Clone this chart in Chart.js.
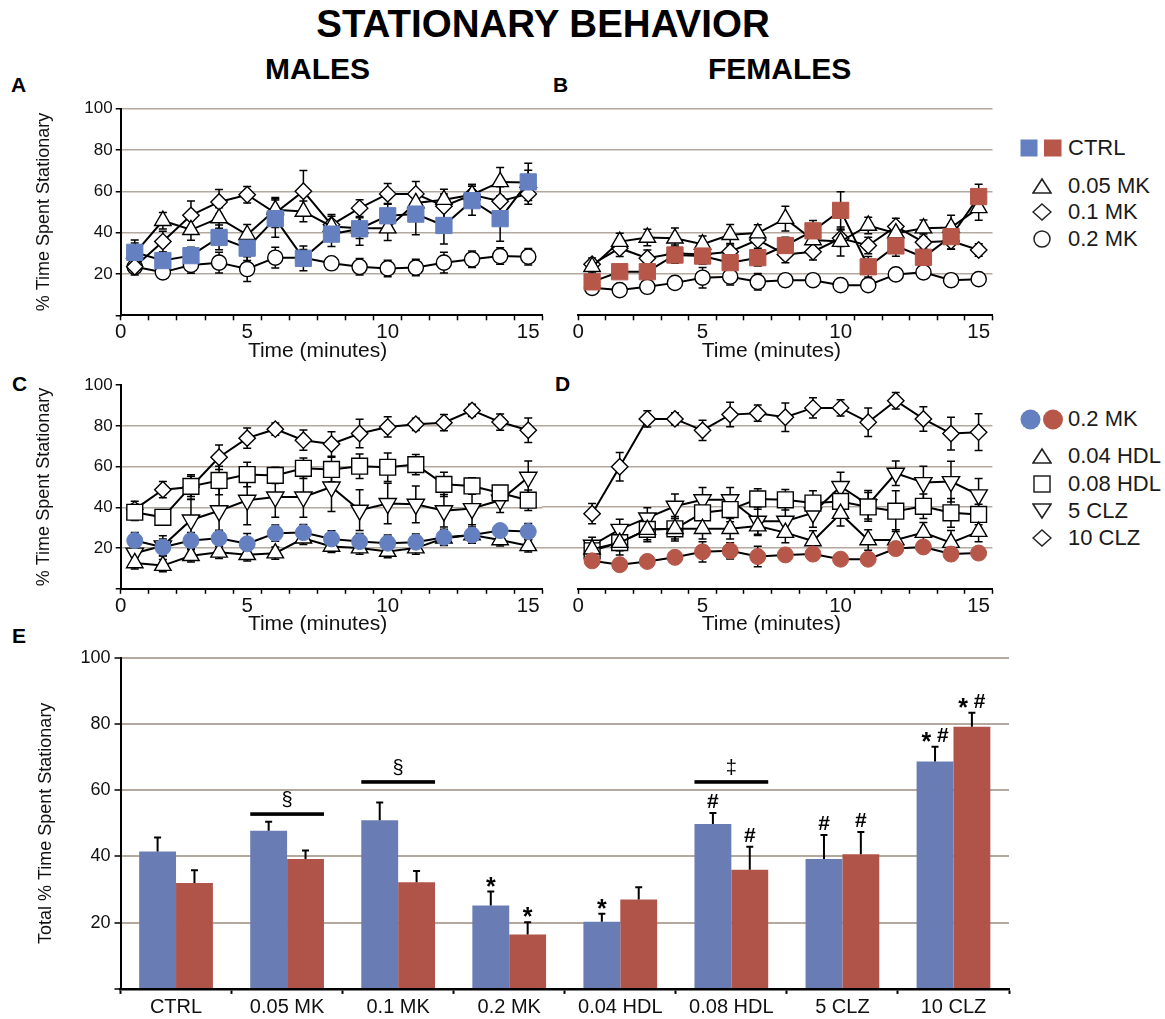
<!DOCTYPE html>
<html>
<head>
<meta charset="utf-8">
<title>Stationary behavior</title>
<script src="https://cdn.jsdelivr.net/npm/chart.js@4.4.1/dist/chart.umd.min.js"></script>
<style>
  html, body { margin: 0; padding: 0; background: #fff; }
  #fig { position: relative; width: 1165px; height: 1019px; overflow: hidden;
         font-family: "Liberation Sans", Arial, Helvetica, sans-serif; color: #111; }
  canvas { position: absolute; }
  .hd { position: absolute; font-weight: bold; line-height: 1; white-space: nowrap; color: #000; }
  .leg { position: absolute; display: flex; align-items: center; height: 26px;
         font-size: 22px; line-height: 1; white-space: nowrap; color: #1a1a1a; }
  .leg svg { display: block; flex: none; }
</style>
</head>
<body>
<div id="fig">
  <div class="hd" style="left:293px; width:500px; text-align:center; top:5px; font-size:38.5px;">STATIONARY BEHAVIOR</div>
  <div class="hd" style="left:265px; top:54px; font-size:30px;">MALES</div>
  <div class="hd" style="left:708px; top:54px; font-size:30px;">FEMALES</div>
  <div class="hd" style="left:11px; top:74px; font-size:21px;">A</div>
  <div class="hd" style="left:553px; top:74px; font-size:21px;">B</div>
  <div class="hd" style="left:12px; top:373px; font-size:21px;">C</div>
  <div class="hd" style="left:555px; top:373px; font-size:21px;">D</div>
  <div class="hd" style="left:12px; top:625px; font-size:21px;">E</div>

  <canvas id="panelA" width="560" height="280" style="left:0px; top:95px;"></canvas>
  <canvas id="panelB" width="465" height="280" style="left:540px; top:95px;"></canvas>
  <canvas id="panelC" width="560" height="270" style="left:0px; top:372px;"></canvas>
  <canvas id="panelD" width="465" height="270" style="left:540px; top:372px;"></canvas>
  <canvas id="panelE" width="1165" height="379" style="left:0px; top:640px;"></canvas>

  <!-- legend for the MK time courses -->
  <div class="leg" style="left:1020px; top:135px;">
    <svg width="42" height="18"><rect x="0.5" y="0.5" width="17" height="17" fill="#6480c0"/><rect x="24" y="0.5" width="17.5" height="17" fill="#b65749"/></svg>
    <span style="margin-left:6px">CTRL</span>
  </div>
  <div class="leg" style="left:1032px; top:173px;">
    <svg width="20" height="18"><polygon points="10,2 19,16 1,16" fill="none" stroke="#222" stroke-width="1.6"/></svg>
    <span style="margin-left:16px">0.05 MK</span>
  </div>
  <div class="leg" style="left:1032px; top:199px;">
    <svg width="20" height="18"><polygon points="10,1 19,9 10,17 1,9" fill="none" stroke="#222" stroke-width="1.5"/></svg>
    <span style="margin-left:16px">0.1 MK</span>
  </div>
  <div class="leg" style="left:1032px; top:226px;">
    <svg width="20" height="18"><circle cx="10" cy="9" r="8" fill="none" stroke="#222" stroke-width="1.5"/></svg>
    <span style="margin-left:16px">0.2 MK</span>
  </div>

  <!-- legend for the HDL / CLZ time courses -->
  <div class="leg" style="left:1020px; top:406px;">
    <svg width="44" height="21"><circle cx="10.5" cy="10.5" r="10" fill="#6480c0"/><circle cx="33" cy="10.5" r="10" fill="#b65749"/></svg>
    <span style="margin-left:4px">0.2 MK</span>
  </div>
  <div class="leg" style="left:1032px; top:443px;">
    <svg width="20" height="18"><polygon points="10,2 19,16 1,16" fill="none" stroke="#222" stroke-width="1.6"/></svg>
    <span style="margin-left:16px">0.04 HDL</span>
  </div>
  <div class="leg" style="left:1032px; top:471px;">
    <svg width="20" height="18"><rect x="2" y="1" width="16" height="16" fill="none" stroke="#222" stroke-width="1.5"/></svg>
    <span style="margin-left:16px">0.08 HDL</span>
  </div>
  <div class="leg" style="left:1032px; top:498px;">
    <svg width="20" height="18"><polygon points="1,2 19,2 10,16" fill="none" stroke="#222" stroke-width="1.6"/></svg>
    <span style="margin-left:16px">5 CLZ</span>
  </div>
  <div class="leg" style="left:1032px; top:525px;">
    <svg width="20" height="18"><polygon points="10,1 19,9 10,17 1,9" fill="none" stroke="#222" stroke-width="1.5"/></svg>
    <span style="margin-left:16px">10 CLZ</span>
  </div>
</div>

<script>
// ---------- time axis ----------
const minutes = [1, 2, 3, 4, 5, 6, 7, 8, 9, 10, 11, 12, 13, 14, 15];
const timeAxisStart = 0.5;
const timeAxisEnd = 15.5;
const timeTickValues = [0.5, 5, 10, 15];
const timeTickLabels = ['0', '5', '10', '15'];
const pctTickValues = [0, 20, 40, 60, 80, 100];
const pctTickLabels = ['', '20', '40', '60', '80', '100'];

// ---------- A: males, MK ----------
const ctrlMale      = [30.5, 26.5, 28.9, 37.7, 32.5, 46.8, 27.6, 39.3, 41.9, 48.2, 49.0, 43.5, 55.5, 46.8, 64.6];
const ctrlMaleErr   = [6, 4, 4, 6, 6, 9, 6, 6, 8, 6, 10, 9, 7, 11, 9];
const mk005Male     = [30.0, 45.8, 41.4, 47.1, 39.0, 51.1, 50.3, 43.0, 42.2, 42.2, 54.4, 56.0, 58.4, 64.6, 64.3];
const mk005MaleErr  = [5, 4, 5, 5, 5, 6, 5, 5, 5, 6, 6, 5, 5, 7, 6];
const mk01Male      = [23.5, 35.7, 48.4, 54.9, 58.4, 49.5, 60.1, 43.8, 51.9, 58.8, 58.8, 52.8, 58.4, 55.2, 58.8];
const mk01MaleErr   = [3, 5, 7, 6, 4, 7, 10, 5, 4, 5, 6, 6, 5, 7, 5];
const mk02MaleA     = [23.5, 20.8, 24.4, 25.5, 22.4, 27.9, 27.9, 25.2, 23.5, 22.7, 23.1, 25.5, 27.1, 28.7, 28.4];
const mk02MaleAErr  = [4, 3, 4, 5, 6, 5, 4, 3, 4, 4, 4, 5, 4, 4, 4];

// ---------- B: females, MK ----------
const ctrlFemale     = [16.2, 21.1, 21.1, 29.2, 28.7, 25.5, 27.9, 33.8, 40.9, 50.8, 23.5, 33.6, 28.1, 38.1, 57.5];
const ctrlFemaleErr  = [3, 3, 3, 4, 4, 4, 4, 4, 5, 9, 5, 5, 4, 6, 6];
const mk005Female    = [23.5, 35.7, 37.7, 37.3, 34.4, 39.0, 39.8, 46.8, 36.5, 35.7, 43.5, 39.8, 42.2, 42.5, 52.0];
const mk005FemaleErr = [3, 4, 4, 5, 4, 5, 4, 6, 4, 7, 4, 4, 4, 6, 6];
const mk01Female     = [24.7, 32.5, 27.6, 30.0, 29.5, 30.8, 36.5, 29.5, 30.8, 37.3, 33.8, 43.0, 35.4, 36.0, 31.6];
const mk01FemaleErr  = [3, 4, 4, 4, 4, 4, 4, 4, 4, 4, 4, 4, 4, 4, 3];
const mk02FemaleB    = [13.3, 12.2, 13.8, 15.7, 18.2, 18.7, 16.2, 17.0, 17.0, 14.6, 14.6, 19.8, 20.8, 17.0, 17.5];
const mk02FemaleBErr = [3, 3, 3, 3, 5, 4, 4, 3, 3, 3, 3, 3, 3, 3, 3];

// ---------- C: males, HDL / CLZ ----------
const mk02MaleC     = [23.7, 20.4, 23.7, 24.8, 22.1, 27.3, 27.6, 24.5, 23.2, 22.4, 22.9, 25.3, 26.4, 28.6, 28.1];
const mk02MaleCErr  = [4, 4, 4, 4, 5, 4, 4, 4, 4, 4, 4, 4, 4, 3, 4];
const hdl004Male    = [12.7, 11.4, 16.2, 17.9, 16.7, 17.5, 24.8, 20.8, 20.0, 18.3, 20.0, 24.8, 26.4, 24.0, 21.1];
const hdl004MaleErr = [3, 3, 3, 3, 3, 3, 3, 3, 3, 3, 3, 3, 3, 3, 3];
const hdl008Male    = [37.6, 35.1, 50.3, 53.2, 56.1, 55.7, 59.2, 58.6, 60.2, 59.7, 61.0, 51.3, 50.5, 47.1, 43.5];
const hdl008MaleErr = [4, 3, 5, 7, 6, 4, 5, 6, 6, 7, 5, 6, 4, 3, 5];
const clz5Male      = [17.5, 21.1, 33.8, 38.3, 43.5, 45.1, 45.1, 50.0, 38.6, 41.9, 41.5, 38.3, 39.4, 43.5, 54.8];
const clz5MaleErr   = [4, 5, 10, 11, 12, 10, 10, 12, 10, 10, 9, 8, 8, 6, 8];
const clz10Male     = [39.0, 48.7, 50.0, 64.6, 74.0, 78.4, 73.0, 71.1, 76.3, 79.5, 80.8, 81.6, 87.6, 81.9, 77.9];
const clz10MaleErr  = [4, 4, 6, 6, 5, 3, 5, 6, 7, 5, 3, 4, 3, 4, 6];

// ---------- D: females, HDL / CLZ ----------
const mk02FemaleD     = [13.7, 11.8, 13.4, 15.4, 18.1, 18.6, 15.8, 16.6, 17.0, 14.5, 14.5, 19.7, 20.5, 17.0, 17.5];
const mk02FemaleDErr  = [3, 3, 2, 3, 5, 4, 5, 3, 3, 3, 3, 3, 3, 3, 3];
const hdl004Female    = [19.4, 22.6, 29.0, 29.4, 29.4, 29.4, 30.7, 27.5, 23.4, 36.8, 23.9, 23.9, 27.5, 22.6, 28.0];
const hdl004FemaleErr = [3, 4, 5, 5, 5, 5, 4, 5, 5, 6, 5, 5, 5, 6, 5];
const hdl008Female    = [18.6, 22.6, 29.1, 29.4, 37.2, 38.8, 44.0, 43.6, 42.0, 42.8, 40.1, 38.0, 40.4, 37.2, 36.4];
const hdl008FemaleErr = [3, 6, 6, 6, 7, 6, 5, 5, 6, 6, 7, 10, 6, 7, 5];
const clz5Female      = [21.3, 29.1, 34.7, 40.4, 43.6, 43.6, 33.1, 33.1, 37.2, 50.1, 41.2, 56.6, 52.0, 52.5, 46.0];
const clz5FemaleErr   = [4, 5, 5, 6, 6, 6, 7, 7, 7, 7, 7, 6, 8, 10, 8];
const clz10Female     = [36.8, 59.8, 83.2, 83.2, 77.6, 85.3, 86.0, 84.0, 88.6, 88.6, 81.6, 92.1, 83.2, 76.0, 76.7];
const clz10FemaleErr  = [5, 7, 4, 3, 5, 6, 4, 7, 5, 4, 7, 4, 6, 8, 9];

// ---------- E: totals ----------
const treatments     = ['CTRL', '0.05 MK', '0.1 MK', '0.2 MK', '0.04 HDL', '0.08 HDL', '5 CLZ', '10 CLZ'];
const totalMale      = [41.5, 47.8, 50.9, 25.2, 20.3, 49.8, 39.2, 68.7];
const totalMaleErr   = [4.2, 2.7, 5.4, 4.2, 2.4, 3.3, 7.3, 4.4];
const totalFemale    = [32.0, 39.2, 32.2, 16.4, 27.0, 36.0, 40.7, 79.2];
const totalFemaleErr = [3.8, 2.6, 3.4, 3.7, 3.7, 6.9, 6.7, 4.2];
const maleSignif     = ['', '', '', '*', '*', '#', '#', '* #'];
const femaleSignif   = ['', '', '', '*', '', '#', '#', '* #'];
const sexDiffGroups  = ['0.05 MK', '0.1 MK', '0.08 HDL'];
const sexDiffLevels  = [52.8, 62.5, 62.5];
const sexDiffSymbols = ['§', '§', '‡'];

// ---------- styling ----------
const FONT = '"Liberation Sans", Arial, Helvetica, sans-serif';
const BLUE_MARK = '#6480c0';
const RED_MARK = '#b65749';
const BLUE_BAR = '#6a7cb4';
const RED_BAR = '#b0544a';
const GRID = '#b3a99f';
const CLEAR = 'rgba(0,0,0,0)';

Chart.defaults.font.family = FONT;
Chart.defaults.color = '#111';

const MARKERS = {
  squareBlue: { shape: 'rect', r: 11.5, fill: BLUE_MARK, stroke: BLUE_MARK, bw: 1 },
  squareRed:  { shape: 'rect', r: 11.5, fill: RED_MARK, stroke: RED_MARK, bw: 1 },
  dotBlue:    { shape: 'circle', r: 8, fill: BLUE_MARK, stroke: BLUE_MARK, bw: 1 },
  dotRed:     { shape: 'circle', r: 8, fill: RED_MARK, stroke: RED_MARK, bw: 1 },
  triangle:   { shape: 'triangle', r: 9.5, fill: '#fff', stroke: '#000', bw: 1.4 },
  triangleDn: { shape: 'triangle', r: 10, rot: 180, fill: '#fff', stroke: '#000', bw: 1.4 },
  diamond:    { shape: 'rectRot', r: 8.2, fill: '#fff', stroke: '#000', bw: 1.4 },
  circle:     { shape: 'circle', r: 7.6, fill: '#fff', stroke: '#000', bw: 1.4 },
  square:     { shape: 'rect', r: 11.2, fill: '#fff', stroke: '#000', bw: 1.4 }
};

function series(label, values, errors, marker) {
  const m = MARKERS[marker];
  return {
    label,
    data: minutes.map((t, i) => ({ x: t, y: values[i] })),
    errors,
    borderColor: '#000',
    borderWidth: 2,
    tension: 0,
    fill: false,
    pointStyle: m.shape,
    pointRadius: m.r,
    pointRotation: m.rot || 0,
    pointBackgroundColor: m.fill,
    pointBorderColor: m.stroke,
    pointBorderWidth: m.bw
  };
}

// symmetric SEM whiskers under the line markers, or upward-only whiskers on bars
const errorBars = {
  id: 'errorBars',
  _draw(chart, o) {
    const { ctx } = chart;
    const y = chart.scales.y;
    chart.data.datasets.forEach((ds, di) => {
      if (!ds.errors) return;
      const meta = chart.getDatasetMeta(di);
      ctx.save();
      ctx.strokeStyle = '#000';
      ctx.lineWidth = o.width;
      meta.data.forEach((el, i) => {
        const raw = ds.data[i];
        const v = typeof raw === 'object' ? raw.y : raw;
        const e = ds.errors[i];
        const top = y.getPixelForValue(v + e);
        const bot = y.getPixelForValue(o.upOnly ? v : v - e);
        ctx.beginPath();
        ctx.moveTo(el.x, top); ctx.lineTo(el.x, bot);
        ctx.moveTo(el.x - o.cap, top); ctx.lineTo(el.x + o.cap, top);
        if (!o.upOnly) { ctx.moveTo(el.x - o.cap, bot); ctx.lineTo(el.x + o.cap, bot); }
        ctx.stroke();
      });
      ctx.restore();
    });
  },
  beforeDatasetsDraw(chart, args, o) { if (!o.onTop) this._draw(chart, o); },
  afterDatasetsDraw(chart, args, o) { if (o.onTop) this._draw(chart, o); }
};

// x-axis caption placed a little left of the plot centre
const xCaption = {
  id: 'xCaption',
  afterDraw(chart, args, o) {
    if (!o.text) return;
    const { ctx, chartArea } = chart;
    ctx.save();
    ctx.font = o.size + 'px ' + FONT;
    ctx.fillStyle = '#111';
    ctx.textAlign = 'center';
    ctx.textBaseline = 'middle';
    ctx.fillText(o.text, (chartArea.left + chartArea.right) / 2 + o.dx, chartArea.bottom + o.dy);
    ctx.restore();
  }
};

function timeAxis(xHeight) {
  const ticks = [];
  for (let v = timeAxisStart; v <= timeAxisEnd; v += 1) ticks.push(v);
  timeTickValues.forEach(v => { if (!ticks.includes(v)) ticks.push(v); });
  ticks.sort((a, b) => a - b);
  return {
    type: 'linear',
    min: timeAxisStart,
    max: timeAxisEnd,
    afterBuildTicks: s => { s.ticks = ticks.map(v => ({ value: v })); },
    afterFit: s => { s.height = xHeight; },
    border: { display: true, color: '#000', width: 2 },
    grid: {
      drawOnChartArea: false, drawTicks: true, tickLength: 5, tickWidth: 1.5,
      tickColor: c => Number.isInteger(c.tick.value - 0.5) ? '#000' : CLEAR
    },
    ticks: {
      autoSkip: false, maxRotation: 0, padding: 0, color: '#111', font: { size: 20.5 },
      callback: v => { const k = timeTickValues.indexOf(v); return k >= 0 ? timeTickLabels[k] : ''; }
    }
  };
}

function pctAxis(opts) {
  const hidden = opts.hideGrid;
  const gridColor = c => hidden.includes(c.tick.value) ? CLEAR : GRID;
  const axis = {
    min: 0, max: 100,
    afterBuildTicks: s => { s.ticks = pctTickValues.map(v => ({ value: v })); },
    afterFit: s => { s.width = opts.width; },
    grid: { color: gridColor, lineWidth: opts.gridWidth || 1.5 }
  };
  if (opts.labelled) {
    axis.border = { display: true, color: '#000', width: 2 };
    axis.grid.tickColor = '#000';
    axis.grid.tickLength = opts.tickLength || 5;
    axis.grid.tickWidth = 1.5;
    axis.ticks = {
      padding: opts.tickPad || 3, color: '#111', font: { size: opts.tickSize || 17 },
      callback: v => pctTickLabels[pctTickValues.indexOf(v)]
    };
    axis.title = { display: true, text: opts.title, color: '#111', font: { size: 18 }, padding: { top: opts.titlePad, bottom: 0 } };
  } else {
    // unlabelled axis: the tick marks continue the grid lines towards the neighbouring panel
    axis.border = { display: false };
    axis.grid.tickColor = gridColor;
    axis.grid.tickLength = opts.tickLength;
    axis.grid.tickWidth = 1.5;
    axis.ticks = { display: false };
  }
  return axis;
}

function timeChart(id, datasets, geo) {
  return new Chart(document.getElementById(id), {
    type: 'line',
    data: { datasets },
    options: {
      responsive: false, animation: false, events: [],
      layout: { padding: { left: 0, right: geo.padRight, top: geo.padTop, bottom: 0 } },
      plugins: {
        legend: { display: false }, tooltip: { enabled: false },
        errorBars: { width: 1.5, cap: 4, upOnly: false, onTop: false },
        xCaption: { text: 'Time (minutes)', size: 21, dx: -14, dy: 35.5 }
      },
      scales: { x: timeAxis(geo.xHeight), y: pctAxis(geo.y) }
    },
    plugins: [errorBars, xCaption]
  });
}

// ---------- panels A-D ----------
timeChart('panelA', [
  series('CTRL', ctrlMale, ctrlMaleErr, 'squareBlue'),
  series('0.05 MK', mk005Male, mk005MaleErr, 'triangle'),
  series('0.1 MK', mk01Male, mk01MaleErr, 'diamond'),
  series('0.2 MK', mk02MaleA, mk02MaleAErr, 'circle')
], { padRight: 17.7, padTop: 13.8, xHeight: 59.7,
     y: { labelled: true, width: 120.7, hideGrid: [0], title: '% Time Spent Stationary', titlePad: 33 } });

timeChart('panelB', [
  series('CTRL', ctrlFemale, ctrlFemaleErr, 'squareRed'),
  series('0.05 MK', mk005Female, mk005FemaleErr, 'triangle'),
  series('0.1 MK', mk01Female, mk01FemaleErr, 'diamond'),
  series('0.2 MK', mk02FemaleB, mk02FemaleBErr, 'circle')
], { padRight: 2.2, padTop: 13.8, xHeight: 59.7,
     y: { labelled: false, width: 38.3, tickLength: 36.5, hideGrid: [0] } });

timeChart('panelC', [
  series('0.2 MK', mk02MaleC, mk02MaleCErr, 'dotBlue'),
  series('0.04 HDL', hdl004Male, hdl004MaleErr, 'triangle'),
  series('0.08 HDL', hdl008Male, hdl008MaleErr, 'square'),
  series('5 CLZ', clz5Male, clz5MaleErr, 'triangleDn'),
  series('10 CLZ', clz10Male, clz10MaleErr, 'diamond')
], { padRight: 17.7, padTop: 10, xHeight: 53.2,
     y: { labelled: true, width: 120.7, hideGrid: [0, 100], title: '% Time Spent Stationary', titlePad: 33 } });

timeChart('panelD', [
  series('0.2 MK', mk02FemaleD, mk02FemaleDErr, 'dotRed'),
  series('0.04 HDL', hdl004Female, hdl004FemaleErr, 'triangle'),
  series('0.08 HDL', hdl008Female, hdl008FemaleErr, 'square'),
  series('5 CLZ', clz5Female, clz5FemaleErr, 'triangleDn'),
  series('10 CLZ', clz10Female, clz10FemaleErr, 'diamond')
], { padRight: 2.2, padTop: 10, xHeight: 53.2,
     y: { labelled: false, width: 38.3, tickLength: 36.5, hideGrid: [0, 100] } });

// ---------- panel E: significance marks and sex-difference bars ----------
const significance = {
  id: 'significance',
  afterDatasetsDraw(chart) {
    const { ctx } = chart;
    const y = chart.scales.y;
    const starFont = 'bold 25px ' + FONT;
    const hashFont = 'bold 21px ' + FONT;
    ctx.save();
    ctx.fillStyle = '#000';
    ctx.textBaseline = 'alphabetic';
    ctx.textAlign = 'left';
    const widthOf = ch => { ctx.font = ch === '*' ? starFont : hashFont; return ctx.measureText(ch).width; };
    [maleSignif, femaleSignif].forEach((marks, di) => {
      const ds = chart.data.datasets[di];
      const meta = chart.getDatasetMeta(di);
      meta.data.forEach((bar, i) => {
        const s = marks[i];
        if (!s) return;
        const top = y.getPixelForValue(ds.data[i] + ds.errors[i]);
        let total = 0;
        for (const ch of s) total += widthOf(ch);
        let x = bar.x - total / 2;
        for (const ch of s) {
          const w = widthOf(ch);
          if (ch === '*') ctx.fillText(ch, x, top + 3);
          else if (ch !== ' ') ctx.fillText(ch, x, top - 5);
          x += w;
        }
      });
    });
    ctx.font = '20px ' + FONT;
    ctx.textAlign = 'center';
    sexDiffGroups.forEach((grp, k) => {
      const i = chart.data.labels.indexOf(grp);
      const b0 = chart.getDatasetMeta(0).data[i];
      const b1 = chart.getDatasetMeta(1).data[i];
      const x0 = b0.x - b0.width / 2;
      const x1 = b1.x + b1.width / 2;
      const yy = y.getPixelForValue(sexDiffLevels[k]);
      ctx.fillRect(x0, yy - 1.8, x1 - x0, 3.6);
      ctx.fillText(sexDiffSymbols[k], (x0 + x1) / 2, yy - 8);
    });
    ctx.restore();
  }
};

new Chart(document.getElementById('panelE'), {
  type: 'bar',
  data: {
    labels: treatments,
    datasets: [
      { label: 'Males', data: totalMale, errors: totalMaleErr, backgroundColor: BLUE_BAR, borderWidth: 0,
        barPercentage: 1.0, categoryPercentage: 0.664 },
      { label: 'Females', data: totalFemale, errors: totalFemaleErr, backgroundColor: RED_BAR, borderWidth: 0,
        barPercentage: 1.0, categoryPercentage: 0.664 }
    ]
  },
  options: {
    responsive: false, animation: false, events: [],
    layout: { padding: { left: 0, right: 156, top: 17.8, bottom: 0 } },
    plugins: {
      legend: { display: false }, tooltip: { enabled: false },
      errorBars: { width: 2, cap: 3.5, upOnly: true, onTop: true }
    },
    scales: {
      x: {
        type: 'category',
        afterFit: s => { s.height = 30.1; },
        border: { display: true, color: '#000', width: 2.5 },
        grid: { offset: true, drawOnChartArea: false, drawTicks: true, tickLength: 5, tickWidth: 2, tickColor: '#000' },
        ticks: { autoSkip: false, maxRotation: 0, padding: 2, color: '#111', font: { size: 20 } }
      },
      y: pctAxis({ labelled: true, width: 120.5, hideGrid: [0], gridWidth: 2, tickLength: 6, tickPad: 4, tickSize: 18,
                   title: 'Total % Time Spent Stationary', titlePad: 35 })
    }
  },
  plugins: [errorBars, significance]
});
</script>
</body>
</html>
